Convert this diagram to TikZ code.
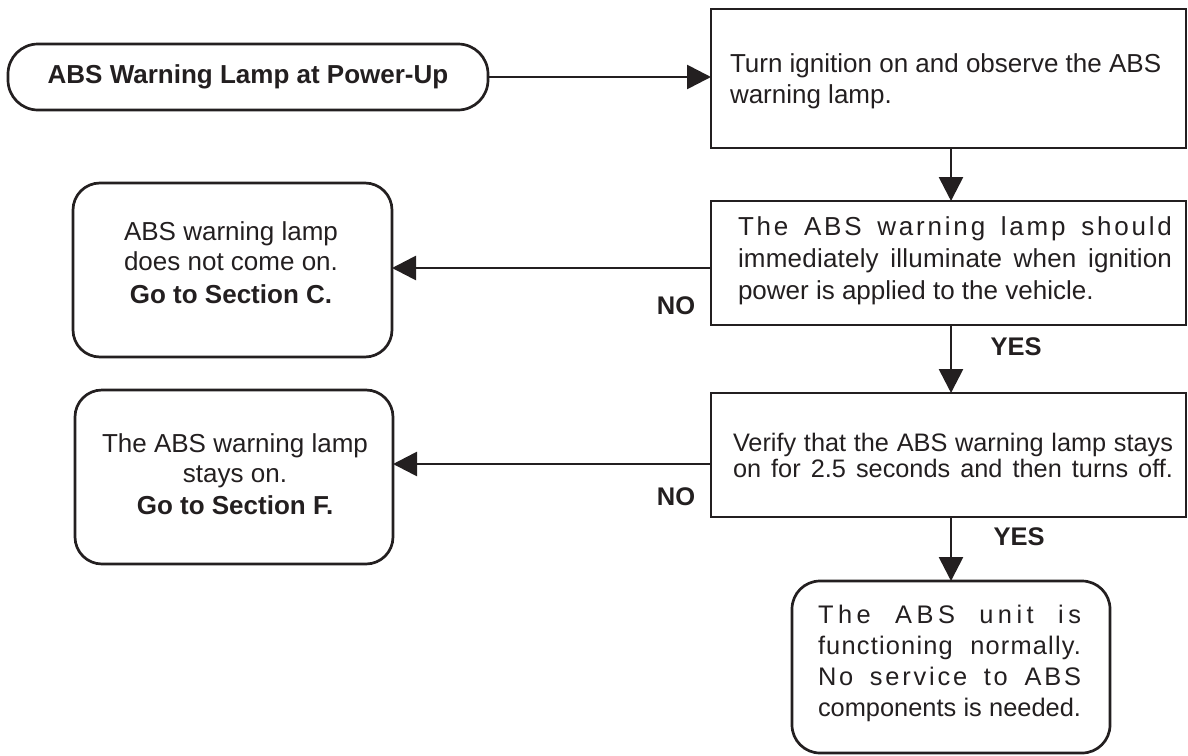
\documentclass[tikz,border=0pt]{standalone}
\usepackage{fontspec}
\setmainfont{Liberation Sans}
\usetikzlibrary{arrows.meta}
\definecolor{ink}{HTML}{231F20}
\newcommand\jl[3]{\makebox[#1][s]{\addfontfeature{LetterSpace=#2}#3}}
\begin{document}
\begin{tikzpicture}[x=1pt,y=-1pt,
  every node/.style={inner sep=0pt, outer sep=0pt, text=ink},
  shapebox/.style={draw=ink, line width=2.7pt, rectangle},
  roundbox/.style={shapebox, rounded corners=27pt},
  arr/.style={draw=ink, line width=2.7pt, -{Triangle[length=24pt,width=24pt]}},
  lbl/.style={font=\fontsize{25.5}{25.5}\selectfont\bfseries},
  body/.style={align=left},
  cbody/.style={align=center, font=\fontsize{26}{30}\selectfont},
]
\useasboundingbox (0,0) rectangle (1188,755);

% shapes
\node[roundbox, rounded corners=30pt, minimum width=480pt, minimum height=66pt,
      font=\fontsize{26}{26}\selectfont\bfseries] (start) at (248,77) {ABS Warning Lamp at Power-Up};
\node[shapebox, minimum width=475pt, minimum height=139pt] (b1) at (948.5,78.5) {};
\node[shapebox, minimum width=475pt, minimum height=124pt] (b2) at (948.5,263) {};
\node[shapebox, minimum width=475pt, minimum height=124pt] (b3) at (948.5,455) {};
\node[roundbox, rounded corners=28pt, minimum width=318pt, minimum height=172pt] (fin) at (951,667) {};
\node[roundbox, minimum width=319pt, minimum height=174pt] (n1) at (232.5,270) {};
\node[roundbox, minimum width=318pt, minimum height=174pt] (n2) at (234,477) {};

% texts
\node[body, anchor=west, font=\fontsize{26}{31}\selectfont] (b1t) at (730,81)
  {Turn ignition on and observe the ABS\\warning lamp.};
\node[body, anchor=west, font=\fontsize{26}{32}\selectfont] (b2t) at (738,260.5)
  {\jl{434pt}{10.8}{The ABS warning lamp should}\\
   \jl{434pt}{0.8}{immediately illuminate when ignition}\\
   power is applied to the vehicle.};
\node[body, anchor=west, font=\fontsize{25.3}{26}\selectfont] (b3t) at (733,455)
  {\jl{440pt}{0}{Verify that the ABS warning lamp stays}\\
   \jl{440pt}{0}{on for 2.5 seconds and then turns off.}};
\node[body, anchor=west, font=\fontsize{25.4}{31.2}\selectfont] (fint) at (818,663.5)
  {\jl{263pt}{17.7}{The ABS unit is}\\
   \jl{263pt}{4.7}{functioning normally.}\\
   \jl{263pt}{11}{No service to ABS}\\
   \jl{263pt}{0}{components is needed.}};
\node[cbody] (n1t) at (231,263)
  {ABS warning lamp\\does not come on.\\[3pt]\textbf{Go to Section C.}};
\node[cbody] (n2t) at (235,474)
  {The ABS warning lamp\\stays on.\\[2pt]\textbf{Go to Section F.}};

% labels
\node[lbl] (no1) at (676,306) {NO};
\node[lbl] (no2) at (676,497) {NO};
\node[lbl] (yes1) at (1016,347) {YES};
\node[lbl] (yes2) at (1019,537) {YES};

% connectors
\draw[arr] (start.east) -- (start.east -| b1.west);
\draw[arr] (b1.south -| fin.north) -- (b2.north -| fin.north);
\draw[arr] (b2.south -| fin.north) -- (b3.north -| fin.north);
\draw[arr] (b3.south -| fin.north) -- (fin.north);
\draw[arr] ([yshift=-5pt]b2.west) -- ([yshift=-5pt]b2.west -| n1.east);
\draw[arr] ([yshift=-9pt]b3.west) -- ([yshift=-9pt]b3.west -| n2.east);
\end{tikzpicture}
\end{document}
